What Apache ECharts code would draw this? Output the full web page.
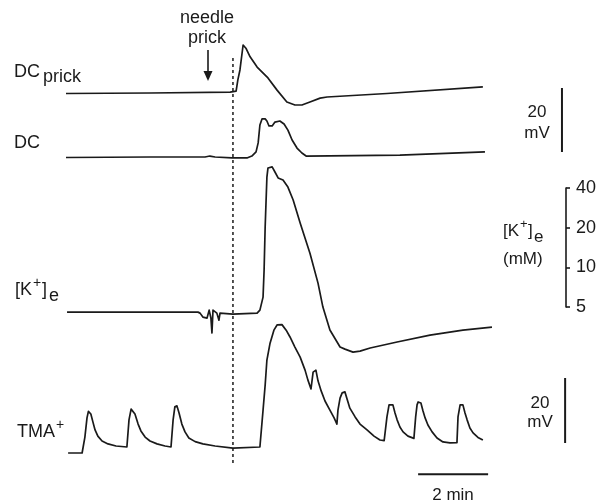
<!DOCTYPE html>
<html>
<head>
<meta charset="utf-8">
<script src="https://cdn.jsdelivr.net/npm/echarts@6/dist/echarts.min.js"></script>
<style>
body{margin:0;background:#fff;}
#main{width:597px;height:504px;}
</style>
</head>
<body>
<div id="main"></div>
<script type="text/javascript">

// time in min, potentials in mV, [K+]e in mM
var dcPrickTime = [0, 2.4, 4.69, 4.86, 4.91, 4.97, 5.06, 5.14, 5.26, 5.46, 5.77, 6.03, 6.31, 6.54, 6.74, 6.97, 7.26, 7.46, 9.17, 11.91];
var dcPrickMv   = [-0.15, 0, 0.3, 0.6, 4.1, 7.2, 15, 14, 11.3, 8.1, 4.7, 0.9, -2.8, -3.75, -3.75, -2.8, -1.6, -1.25, -0.15, 1.9];

var dcTime = [0, 2.4, 3.97, 4.11, 4.26, 4.74, 5.17, 5.31, 5.43, 5.49, 5.54, 5.6, 5.69, 5.74, 5.8, 5.89, 5.97, 6.11, 6.23, 6.34, 6.46, 6.6, 6.74, 6.86, 9.54, 11.97];
var dcMv   = [-0.15, 0, 0, 0.3, 0, -0.3, -0.3, 0.3, 1.6, 4.4, 10, 11.9, 11.9, 11.25, 9.7, 9.7, 10.9, 11.25, 10.3, 8.4, 5.3, 2.8, 1.25, 0.3, 0.6, 1.6];

var kTime = [0.03, 2.4, 3.77, 3.83, 3.91, 4.03, 4.09, 4.14, 4.17, 4.2, 4.31, 4.37, 4.4, 4.77, 5.46, 5.54, 5.63, 5.66, 5.69, 5.74, 5.77, 5.89, 5.97, 6.06, 6.2, 6.34, 6.49, 6.69, 6.97, 7.2, 7.34, 7.54, 7.83, 7.97, 8.2, 8.4, 8.69, 9.46, 10.4, 11.34, 12.17];
var kMm   = [4.58, 4.58, 4.58, 4.5, 4.2, 4.13, 4.74, 4.13, 3.18, 4.74, 4.5, 3.98, 4.5, 4.43, 4.5, 4.74, 5.95, 9.54, 20.2, 48.3, 56.6, 57.7, 52.8, 47.6, 45.9, 40.6, 32.4, 21.7, 12.8, 7.6, 5, 3.35, 2.49, 2.4, 2.28, 2.32, 2.45, 2.72, 3.07, 3.35, 3.52];

var tmaTime = [0.06, 0.46, 0.54, 0.6, 0.64, 0.67, 0.71, 0.77, 0.83, 0.91, 1.03, 1.2, 1.43, 1.74,
	1.8, 1.86, 1.91, 1.97, 2.06, 2.14, 2.26, 2.4, 2.6, 2.83, 3.0,
	3.06, 3.11, 3.17, 3.23, 3.31, 3.4, 3.51, 3.69, 3.91, 4.26, 4.77, 5.54,
	5.63, 5.69, 5.74, 5.83, 5.94, 6.03, 6.17, 6.29, 6.4, 6.54, 6.69, 6.83, 6.91, 7.0, 7.06, 7.14, 7.2, 7.29, 7.4, 7.54, 7.66, 7.74,
	7.77, 7.83, 7.89, 7.97, 8.03, 8.11, 8.26, 8.4, 8.6, 8.8, 8.97, 9.09,
	9.17, 9.23, 9.26, 9.34, 9.4, 9.46, 9.54, 9.63, 9.77, 9.94,
	9.99, 10.03, 10.06, 10.14, 10.2, 10.26, 10.34, 10.46, 10.6, 10.77, 10.97, 11.17,
	11.2, 11.26, 11.29, 11.34, 11.4, 11.46, 11.54, 11.63, 11.77, 11.91];
var tmaMv   = [0, 0, 4.9, 10.8, 12.8, 12.9, 12, 9.5, 7.1, 5.2, 3.7, 2.8, 2.15, 1.85,
	10.2, 13.5, 13.8, 12, 8.9, 6.8, 4.9, 3.7, 2.8, 2.15, 1.85,
	10.2, 14.2, 14.5, 12.3, 8.9, 6.5, 4.6, 3.5, 2.8, 2.15, 1.5, 1.85,
	13.2, 20.9, 28.6, 33.8, 37.8, 39.4, 39.5, 37.8, 35.7, 32.6, 29.5, 25.5, 22.5, 19.7, 24.9, 25.5, 22.2, 19.1, 16, 13.2, 10.8, 8.9,
	13.2, 16.9, 18.5, 18.8, 16.6, 13.8, 11.1, 8.9, 7.1, 5.2, 4, 3.8,
	11.1, 14.8, 15.4, 14.8, 12.3, 10.2, 8, 6.5, 5.2, 4.5,
	11.1, 14.8, 15.7, 15.4, 12.9, 10.8, 8.6, 6.5, 4.6, 3.4, 3.1, 3.2,
	11.1, 14.8, 15.4, 14.8, 12.3, 10.2, 7.7, 6.2, 4.8, 4];

var prickTime = 4.77;
var kScaleTicks = [5, 10, 20, 40];
var timeBar = [10.06, 12.06];   // 2 min
var dcBarMv = [1.56, -18.44];   // 20 mV
var tmaBarMv = [23.1, 3.1];     // 20 mV

var FONT = 'Liberation Sans, Arial, sans-serif';
var INK = '#1a1a1a';
var XMAX = 15.171;

function zip(a, b){
	var out = [];
	for (var i = 0; i < a.length; i++) out.push([a[i], b[i]]);
	return out;
}
function trace(grid, data, w, dash){
	return {
		type: 'line', xAxisIndex: grid, yAxisIndex: grid, data: data,
		symbol: 'none', silent: true, animation: false,
		lineStyle: {color: INK, width: w || 1.7, type: dash || 'solid', join: 'round'}
	};
}
function txt(s, x, y, size, align){
	return {
		type: 'text', x: x, y: y, silent: true,
		style: {text: s, fill: INK, font: size + 'px ' + FONT, textAlign: align || 'left', textVerticalAlign: 'middle'}
	};
}

var myChart = echarts.init(document.getElementById('main'));

var grids = [
	{left: 66, right: 0, top: 29, bottom: 347},      // DC prick
	{left: 66, right: 0, top: 93, bottom: 315},      // DC
	{left: 66, right: 0, top: 161, bottom: 144.4},   // [K+]e
	{left: 66, right: 0, top: 290.5, bottom: 18.5},  // TMA+
	{left: 66, right: 0, top: 55, bottom: 41},       // needle prick line
	{left: 566, right: 30, top: 188, bottom: 197}    // K scale
];
grids.forEach(function(g){ g.containLabel = false; g.outerBoundsMode = 'none'; });

var xAxes = [], yAxes = [];
for (var i = 0; i < 5; i++) {
	xAxes.push({gridIndex: i, type: 'value', min: 0, max: XMAX, show: false});
}
xAxes.push({gridIndex: 5, type: 'value', min: 0, max: 1, show: false});
yAxes.push({gridIndex: 0, type: 'value', min: -20, max: 20, show: false});
yAxes.push({gridIndex: 1, type: 'value', min: -10, max: 20, show: false});
yAxes.push({gridIndex: 2, type: 'log', logBase: 2, min: 2, max: 64, show: false});
yAxes.push({gridIndex: 3, type: 'value', min: -10, max: 50, show: false});
yAxes.push({gridIndex: 4, type: 'value', min: 0, max: 1, show: false});
yAxes.push({
	gridIndex: 5, type: 'value', position: 'right', min: 0, max: 3, interval: 1,
	axisLine: {show: true, lineStyle: {color: INK, width: 1.6}},
	axisTick: {show: true, length: 4, lineStyle: {color: INK, width: 1.6}},
	axisLabel: {color: INK, fontFamily: FONT, fontSize: 18, margin: 9,
		formatter: function(v){ return kScaleTicks[Math.round(v)]; }},
	splitLine: {show: false}
});

var option = {
	backgroundColor: '#fff',
	animation: false,
	grid: grids,
	xAxis: xAxes,
	yAxis: yAxes,
	series: [
		trace(0, zip(dcPrickTime, dcPrickMv)),
		trace(0, [[14.17, dcBarMv[0]], [14.17, dcBarMv[1]]], 2),
		trace(1, zip(dcTime, dcMv)),
		trace(2, zip(kTime, kMm)),
		trace(3, zip(tmaTime, tmaMv)),
		trace(3, [[14.26, tmaBarMv[0]], [14.26, tmaBarMv[1]]], 2),
		trace(3, [[timeBar[0], -6.5], [timeBar[1], -6.5]], 2),
		trace(4, [[prickTime, 0], [prickTime, 1]], 1.5, [3, 3])
	],
	graphic: [
		txt('needle', 207, 18, 18, 'center'),
		txt('prick', 207, 38, 18, 'center'),
		{type: 'line', silent: true, shape: {x1: 208, y1: 50, x2: 208, y2: 73}, style: {stroke: INK, lineWidth: 1.6}},
		{type: 'polygon', silent: true, shape: {points: [[203.5, 71], [212.5, 71], [208, 81]]}, style: {fill: INK}},
		txt('DC', 14, 72, 18),
		txt('prick', 43, 77, 18),
		txt('DC', 14, 143, 18),
		txt('[K', 15, 290, 18),
		txt('+', 33, 283, 14),
		txt(']', 42, 290, 18),
		txt('e', 49, 296, 18),
		txt('TMA', 17, 432, 18),
		txt('+', 56, 425, 14),
		txt('20', 537, 112, 17, 'center'),
		txt('mV', 537, 133, 17, 'center'),
		txt('[K', 503, 231, 17),
		txt('+', 520, 224, 13),
		txt(']', 528, 231, 17),
		txt('e', 534, 237, 17),
		txt('(mM)', 503, 259, 17),
		txt('20', 540, 403, 17, 'center'),
		txt('mV', 540, 422, 17, 'center'),
		txt('2 min', 453, 495, 17, 'center')
	]
};
myChart.setOption(option);

</script>
</body>
</html>
